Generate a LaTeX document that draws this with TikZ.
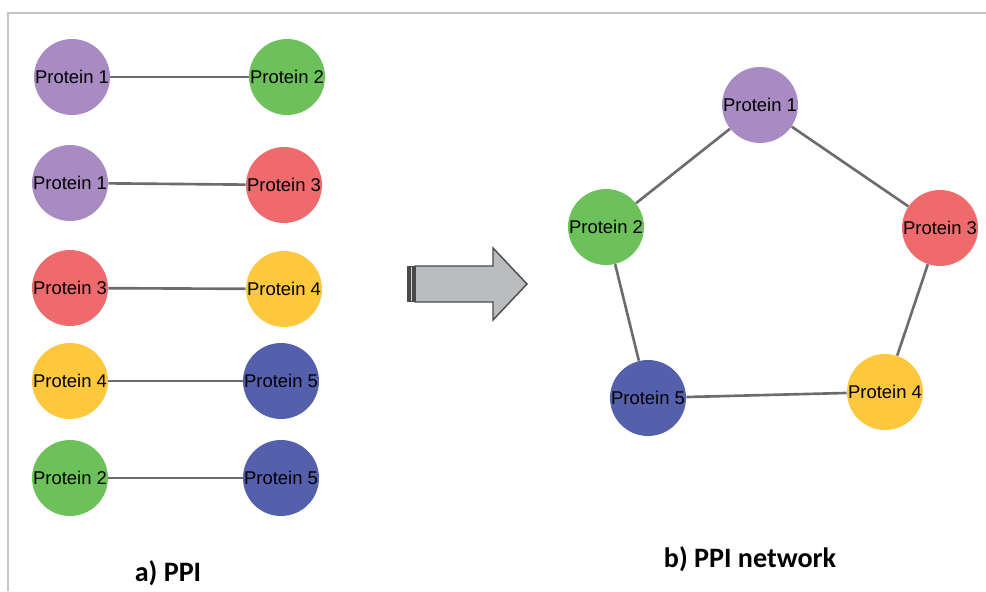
\documentclass[tikz,border=0pt]{standalone}
\usepackage{fontspec}
\setmainfont{Liberation Sans}
\newfontfamily\capfont{Carlito}
\definecolor{purp}{HTML}{A98BC3}
\definecolor{grn}{HTML}{6DC15A}
\definecolor{rd}{HTML}{EE6A6C}
\definecolor{yel}{HTML}{FDC73E}
\definecolor{blu}{HTML}{5560AD}
\definecolor{linkgray}{HTML}{6C6C6C}
\definecolor{framegray}{HTML}{C4C4C4}
\definecolor{arrowfill}{HTML}{BABDC0}
\definecolor{arrowedge}{HTML}{4A4A4A}
\begin{document}
\begin{tikzpicture}[x=0.02cm, y=-0.02cm,
    prot/.style={circle, minimum size=1.52cm, inner sep=0pt, font=\fontsize{10.5}{12}\selectfont},
    link/.style={draw=linkgray, line width=1.5pt}]
    \useasboundingbox (0,0) rectangle (986,591);
    \draw[framegray, line width=1pt] (8,591) -- (8,13) -- (986,13);
    % a) pairs
    \node[prot, fill=purp] (a1) at (72,77) {Protein 1};
    \node[prot, fill=grn] (a2) at (287,77) {Protein 2};
    \node[prot, fill=purp] (b1) at (70,183) {Protein 1};
    \node[prot, fill=rd] (b2) at (284,185) {Protein 3};
    \node[prot, fill=rd] (c1) at (70,288) {Protein 3};
    \node[prot, fill=yel] (c2) at (284,289) {Protein 4};
    \node[prot, fill=yel] (d1) at (70,381) {Protein 4};
    \node[prot, fill=blu] (d2) at (281,381) {Protein 5};
    \node[prot, fill=grn] (e1) at (70,478) {Protein 2};
    \node[prot, fill=blu] (e2) at (281,478) {Protein 5};
    \draw[link] (a1) -- (a2);
    \draw[link] (b1) -- (b2);
    \draw[link] (c1) -- (c2);
    \draw[link] (d1) -- (d2);
    \draw[link] (e1) -- (e2);
    % arrow
    \draw[arrowedge, fill=arrowfill, line width=0.8pt] (415,266) -- (493,266) -- (493,248) -- (527,284) -- (493,320) -- (493,302) -- (415,302) -- cycle;
    \fill[arrowedge] (407,266) rectangle (416,302);
    \draw[arrowfill!70!white, line width=0.8pt] (411.5,267) -- (411.5,301);
    % b) network
    \node[prot, fill=purp] (n1) at (760,105) {Protein 1};
    \node[prot, fill=grn] (n2) at (606,227) {Protein 2};
    \node[prot, fill=rd] (n3) at (940,228) {Protein 3};
    \node[prot, fill=yel] (n4) at (885,392) {Protein 4};
    \node[prot, fill=blu] (n5) at (648,398) {Protein 5};
    \draw[link] (n1) -- (n2);
    \draw[link] (n1) -- (n3);
    \draw[link] (n3) -- (n4);
    \draw[link] (n4) -- (n5);
    \draw[link] (n5) -- (n2);
    % captions
    \node[font=\capfont\bfseries\fontsize{16}{19}\selectfont] (capa) at (168,573) {a) PPI};
    \node[font=\capfont\bfseries\fontsize{16}{19}\selectfont] (capb) at (750,559) {b) PPI network};
\end{tikzpicture}
\end{document}
